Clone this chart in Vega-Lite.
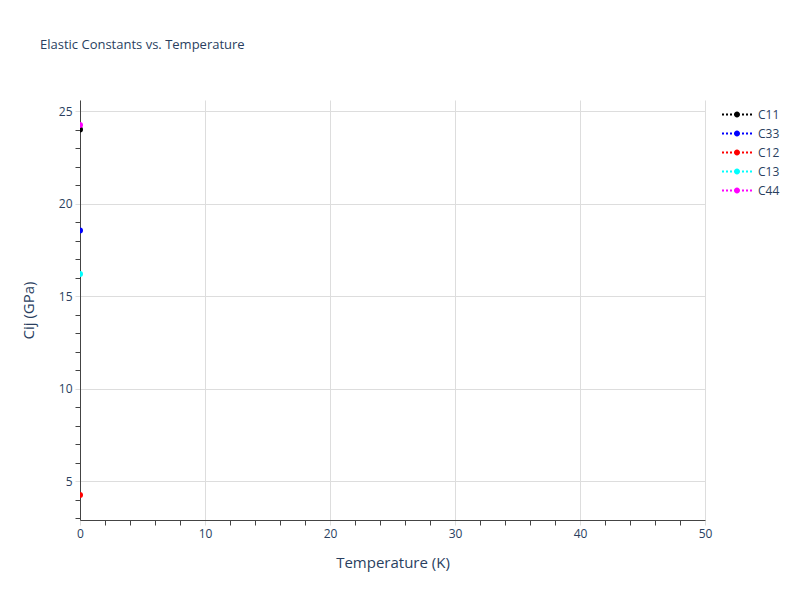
{
  "$schema": "https://vega.github.io/schema/vega-lite/v6.json",
  "width": 625,
  "height": 420,
  "autosize": {"type": "none"},
  "padding": {"left": 80, "top": 100, "right": 95, "bottom": 80},
  "background": "white",
  "title": {
    "text": "Elastic Constants vs. Temperature",
    "anchor": "start",
    "frame": "group",
    "dx": -40,
    "offset": 48,
    "fontSize": 13,
    "fontWeight": "normal",
    "color": "#2a3f5f"
  },
  "data": {
    "values": [
      {"T": 0, "C": 24.0, "Series": "C11"},
      {"T": 0, "C": 18.55, "Series": "C33"},
      {"T": 0, "C": 4.25, "Series": "C12"},
      {"T": 0, "C": 16.2, "Series": "C13"},
      {"T": 0, "C": 24.25, "Series": "C44"}
    ]
  },
  "mark": {"type": "point", "filled": true, "size": 36, "opacity": 1, "clip": true},
  "encoding": {
    "x": {
      "field": "T",
      "type": "quantitative",
      "title": "Temperature (K)",
      "scale": {"domain": [0, 50], "nice": false, "zero": false},
      "axis": {
        "values": [0, 2, 4, 6, 8, 10, 12, 14, 16, 18, 20, 22, 24, 26, 28, 30, 32, 34, 36, 38, 40, 42, 44, 46, 48, 50],
        "labelExpr": "datum.value % 10 === 0 ? datum.label : ''",
        "labelFlush": false,
        "gridOpacity": {"condition": {"test": "datum.value % 10 === 0", "value": 1}, "value": 0},
        "tickColor": {"condition": {"test": "datum.value % 10 === 0", "value": "#dddddd"}, "value": "#444444"},
        "titlePadding": 16
      }
    },
    "y": {
      "field": "C",
      "type": "quantitative",
      "title": "Cij (GPa)",
      "scale": {"domain": [2.9, 25.6], "nice": false, "zero": false},
      "axis": {
        "values": [3, 4, 5, 6, 7, 8, 9, 10, 11, 12, 13, 14, 15, 16, 17, 18, 19, 20, 21, 22, 23, 24, 25],
        "labelExpr": "datum.value % 5 === 0 ? datum.label : ''",
        "labelFlush": false,
        "gridOpacity": {"condition": {"test": "datum.value % 5 === 0", "value": 1}, "value": 0},
        "tickColor": {"condition": {"test": "datum.value % 5 === 0", "value": "#dddddd"}, "value": "#444444"},
        "titlePadding": 22
      }
    },
    "color": {
      "field": "Series",
      "type": "nominal",
      "title": null,
      "scale": {
        "domain": ["C11", "C33", "C12", "C13", "C44"],
        "range": ["black", "blue", "red", "cyan", "magenta"]
      },
      "legend": {
        "orient": "none",
        "legendX": 642,
        "legendY": 5,
        "symbolType": "M-1,-0.0667h0.1333v0.1333h-0.1333z M-0.7333,-0.0667h0.1333v0.1333h-0.1333z M-0.4667,-0.0667h0.1333v0.1333h-0.1333z M0.3333,-0.0667h0.1333v0.1333h-0.1333z M0.6,-0.0667h0.1333v0.1333h-0.1333z M0.8667,-0.0667h0.1333v0.1333h-0.1333z M-0.2,0a0.2,0.2 0 1,0 0.4,0a0.2,0.2 0 1,0 -0.4,0z",
        "symbolSize": 900,
        "symbolStrokeWidth": 0,
        "symbolOpacity": 1,
        "clipHeight": 19,
        "rowPadding": 0,
        "labelOffset": 6,
        "labelFontSize": 12,
        "labelColor": "#2a3f5f"
      }
    }
  },
  "config": {
    "font": "Open Sans",
    "view": {"stroke": null},
    "axis": {
      "domainColor": "#444444",
      "domainWidth": 1,
      "gridColor": "#dddddd",
      "tickSize": 5,
      "labelFontSize": 12,
      "labelColor": "#2a3f5f",
      "labelPadding": 3,
      "titleFontSize": 15,
      "titleFontWeight": "normal",
      "titleColor": "#2a3f5f"
    }
  }
}
